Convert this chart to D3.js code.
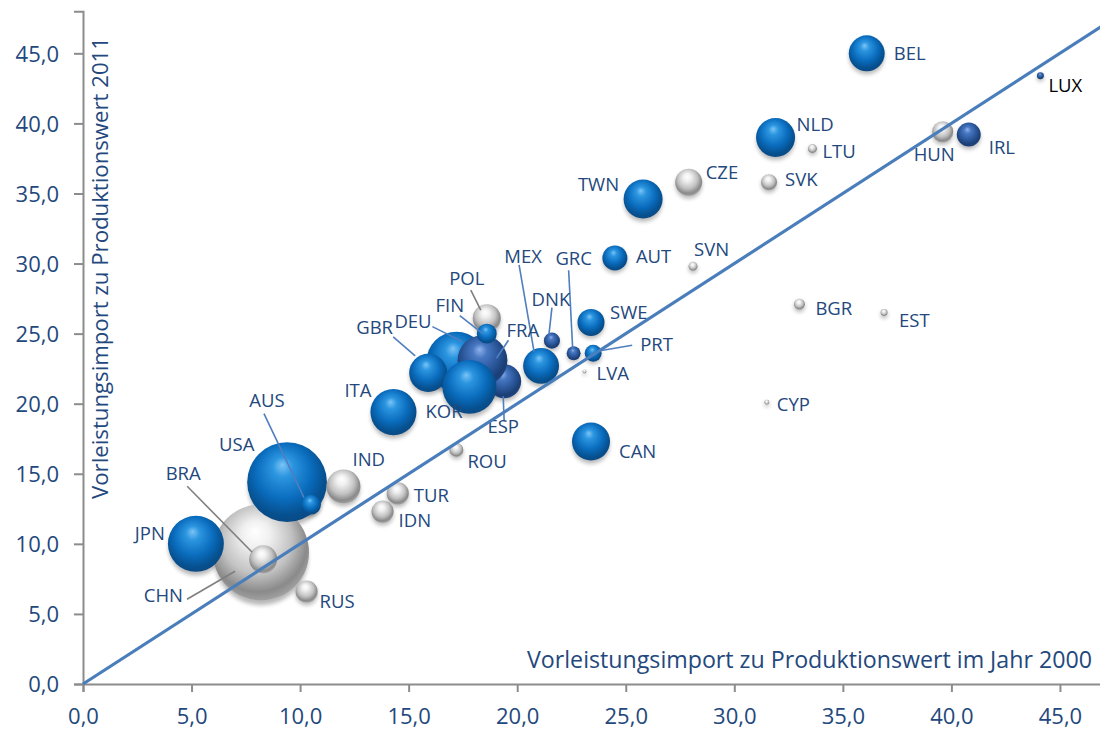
<!DOCTYPE html>
<html>
<head>
<meta charset="utf-8">
<script src="https://cdn.jsdelivr.net/npm/d3@7"></script>
<style>
  body { margin: 0; background: #fff; }
  svg { display: block; }
  text { font-family: "Open Sans", "DejaVu Sans", sans-serif; }
</style>
</head>
<body>
<svg id="chart" width="1100" height="729"></svg>
<script>
// Countries in drawing order (back to front)
const countries = ["CHN","USA","JPN","DEU","ESP","FRA","GBR","KOR","ITA","POL","FIN","BRA","AUS","IND","RUS","TUR","IDN","ROU","CAN","MEX","DNK","GRC","PRT","LVA","SWE","AUT","SVN","TWN","CZE","NLD","LTU","SVK","BEL","LUX","HUN","IRL","BGR","EST","CYP"];
// Intermediate imports as % of production value, 2000
const import2000 = [8.2, 9.4, 5.2, 17.2, 19.4, 18.4, 15.9, 17.8, 14.3, 18.6, 18.6, 8.3, 10.5, 12.0, 10.3, 14.5, 13.8, 17.2, 23.4, 21.1, 21.6, 22.6, 23.5, 23.1, 23.4, 24.5, 28.1, 25.8, 27.9, 31.9, 33.6, 31.6, 36.1, 44.1, 39.6, 40.8, 33.0, 36.9, 31.5];
// Intermediate imports as % of production value, 2011
const import2011 = [9.4, 14.4, 10.0, 23.0, 21.6, 23.1, 22.2, 21.2, 19.4, 26.1, 25.0, 8.9, 12.8, 14.1, 6.6, 13.6, 12.3, 16.7, 17.3, 22.7, 24.5, 23.6, 23.6, 22.3, 25.8, 30.4, 29.8, 34.6, 35.8, 39.0, 38.2, 35.8, 45.0, 43.4, 39.4, 39.2, 27.1, 26.5, 20.1];
// Bubble size (relative production volume)
const production = [100, 69, 34, 39, 12.5, 27, 15.7, 31.6, 23, 8.5, 4.3, 8.5, 4.3, 12.5, 5.3, 5.3, 5.3, 2.1, 15.7, 14, 2.8, 2.1, 3.1, 0.17, 7.9, 6.8, 0.88, 16.5, 7.9, 16.5, 0.88, 2.8, 14, 0.53, 4.8, 6.25, 1.3, 0.53, 0.27];
// Colour group of each bubble
const colorGroup = ["grey","blue","blue","blue","navy","navy","blue","blue","blue","grey","blue","grey","blue","grey","grey","grey","grey","grey","blue","blue","navy","navy","blue","grey","blue","blue","grey","blue","grey","blue","grey","grey","blue","navy","grey","navy","grey","grey","grey"];

const xTicks = [0, 5, 10, 15, 20, 25, 30, 35, 40, 45];
const yTicks = [0, 5, 10, 15, 20, 25, 30, 35, 40, 45];
const xTitle = "Vorleistungsimport zu Produktionswert im Jahr 2000";
const yTitle = "Vorleistungsimport zu Produktionswert 2011";

// Label placement relative to bubble centre (px); optional leader line [x1,y1,x2,y2]
const labelLayout = {
  BEL: {dx: 27, dy: 7, a: "start"},
  LUX: {dx: 8, dy: 16, a: "start", color: "#000"},
  NLD: {dx: 21, dy: -6, a: "start"},
  LTU: {dx: 10, dy: 9, a: "start"},
  HUN: {dx: -29, dy: 29, a: "start"},
  IRL: {dx: 20, dy: 19, a: "start"},
  SVK: {dx: 16, dy: 4, a: "start"},
  TWN: {dx: -24, dy: -8, a: "end"},
  CZE: {dx: 17, dy: -3, a: "start"},
  AUT: {dx: 21, dy: 5, a: "start"},
  SVN: {dx: 1, dy: -10, a: "start"},
  BGR: {dx: 16, dy: 11, a: "start"},
  EST: {dx: 15, dy: 14, a: "start"},
  CYP: {dx: 10, dy: 9, a: "start"},
  CAN: {dx: 28, dy: 16, a: "start"},
  SWE: {dx: 19, dy: -3, a: "start"},
  PRT: {dx: 47, dy: -2, a: "start", leader: [4, -2, 39, -8]},
  LVA: {dx: 12, dy: 9, a: "start"},
  GRC: {dx: 0, dy: -88, a: "middle", leader: [-1, -5, -5, -83]},
  MEX: {dx: -18, dy: -103, a: "middle", leader: [-7, -14, -22, -101]},
  DNK: {dx: -1, dy: -35, a: "middle", leader: [-3, -6, 0, -33]},
  POL: {dx: -20, dy: -33, a: "middle", leader: [-6, -8, -16, -28]},
  FIN: {dx: -37, dy: -22, a: "middle", leader: [-4, 0, -27, -18]},
  FRA: {dx: 24, dy: -23, a: "start", leader: [14, -2, 26, -20]},
  DEU: {dx: -62, dy: -34, a: "start", leader: [6, -20, -24, -35]},
  GBR: {dx: -72, dy: -39, a: "start", leader: [-13, -17, -35, -36]},
  ESP: {dx: -1, dy: 52, a: "middle", leader: [-1, 15, 0, 40]},
  KOR: {dx: -44, dy: 31, a: "start"},
  ITA: {dx: -22, dy: -15, a: "end"},
  ROU: {dx: 11, dy: 18, a: "start"},
  IND: {dx: 9, dy: -20, a: "start"},
  AUS: {dx: -44, dy: -98, a: "middle", leader: [-7, -7, -47, -91]},
  USA: {dx: -68, dy: -31, a: "start"},
  BRA: {dx: -80, dy: -79, a: "middle", leader: [-11, -7, -76, -73]},
  JPN: {dx: -31, dy: -4, a: "end"},
  CHN: {dx: -78, dy: 50, a: "end", leader: [-26, 19, -74, 47]},
  RUS: {dx: 13, dy: 16, a: "start"},
  TUR: {dx: 16, dy: 9, a: "start"},
  IDN: {dx: 16, dy: 15, a: "start"}
};

const textColor = "#23487d";
const axisColor = "#8c8c8c";
const diagColor = "#4a7ebb";

const svg = d3.select("#chart");
const x = d3.scaleLinear().domain([0, 47]).range([83, 83 + 47 * 21.71]);
const y = d3.scaleLinear().domain([0, 48]).range([684, 684 - 48 * 14.015]);
const r = d3.scaleSqrt().domain([0, 100]).range([0, 48]);
const fmt = v => d3.format(".1f")(v).replace(".", ",");

// Sphere gradients and drop shadow
const defs = svg.append("defs");
const gradients = {
  blue: [[0, "#7cc4f6"], [0.22, "#2b95e0"], [0.6, "#0a6cbd"], [0.88, "#06508f"], [1, "#0a4a85"]],
  navy: [[0, "#8fb3ec"], [0.25, "#4877c2"], [0.62, "#2a5699"], [0.88, "#1b3f75"], [1, "#1f447c"]],
  grey: [[0, "#ffffff"], [0.25, "#f0f0f0"], [0.62, "#c2c2c2"], [0.88, "#8a8a8a"], [1, "#a0a0a0"]]
};
Object.entries(gradients).forEach(([key, stops]) => {
  const g = defs.append("radialGradient").attr("id", "sphere-" + key)
    .attr("cx", "0.47").attr("cy", "0.42").attr("r", "0.58")
    .attr("fx", "0.44").attr("fy", "0.28");
  stops.forEach(([o, c]) => g.append("stop").attr("offset", o).attr("stop-color", c));
});
defs.append("filter").attr("id", "soft").attr("x", "-50%").attr("y", "-50%").attr("width", "200%").attr("height", "200%")
  .append("feGaussianBlur").attr("stdDeviation", 2.2);

// Axes
const yAxis = d3.axisLeft(y).tickValues(yTicks).tickFormat(fmt).tickSize(9).tickPadding(15);
const xAxis = d3.axisBottom(x).tickValues(xTicks).tickFormat(fmt).tickSize(8).tickPadding(16);

const gy = svg.append("g").attr("transform", "translate(83,0)").call(yAxis);
const gx = svg.append("g").attr("transform", "translate(0,684)").call(xAxis);
[gx, gy].forEach(g => {
  g.select(".domain").attr("stroke", axisColor).attr("stroke-width", 2);
  g.selectAll(".tick line").attr("stroke", axisColor).attr("stroke-width", 2);
  g.selectAll(".tick text").attr("fill", textColor).style("font-size", "22px")
    .style("font-family", '"Open Sans", sans-serif');
});
gy.selectAll(".tick text").attr("dy", "0.36em");
gx.selectAll(".tick text").attr("dy", "0.72em");

// Axis titles
svg.append("text").attr("x", 1092).attr("y", 668).attr("text-anchor", "end")
  .attr("fill", textColor).style("font-size", "23.2px").text(xTitle);
svg.append("text").attr("transform", "translate(108,268) rotate(-90)").attr("text-anchor", "middle")
  .attr("fill", textColor).style("font-size", "22.2px").text(yTitle);

const data = countries.map((c, i) => ({
  name: c, vx: import2000[i], vy: import2011[i], size: production[i], group: colorGroup[i]
}));

// Bubble shadows
svg.append("g").selectAll("circle").data(data).join("circle")
  .attr("cx", d => x(d.vx))
  .attr("cy", d => y(d.vy) + 2 + r(d.size) * 0.08)
  .attr("r", d => r(d.size) * 0.98)
  .attr("fill", "#000").attr("opacity", 0.28)
  .attr("filter", "url(#soft)");

// Bubbles
svg.append("g").selectAll("circle").data(data).join("circle")
  .attr("cx", d => x(d.vx))
  .attr("cy", d => y(d.vy))
  .attr("r", d => r(d.size))
  .attr("fill", d => `url(#sphere-${d.group})`);

// Leader lines
const withLeader = data.filter(d => labelLayout[d.name] && labelLayout[d.name].leader);
svg.append("g").selectAll("line").data(withLeader).join("line")
  .attr("x1", d => x(d.vx) + labelLayout[d.name].leader[0])
  .attr("y1", d => y(d.vy) + labelLayout[d.name].leader[1])
  .attr("x2", d => x(d.vx) + labelLayout[d.name].leader[2])
  .attr("y2", d => y(d.vy) + labelLayout[d.name].leader[3])
  .attr("stroke", d => d.group === "grey" ? "#7f7f7f" : "#4f7fbf")
  .attr("stroke-width", 1.6);

// Country labels
svg.append("g").selectAll("text").data(data).join("text")
  .attr("x", d => x(d.vx) + labelLayout[d.name].dx)
  .attr("y", d => y(d.vy) + labelLayout[d.name].dy)
  .attr("text-anchor", d => labelLayout[d.name].a)
  .attr("fill", d => labelLayout[d.name].color || textColor)
  .style("font-size", "18.5px")
  .text(d => d.name);

// 45-degree reference line (equal shares in both years)
svg.append("line")
  .attr("x1", x(0)).attr("y1", y(0))
  .attr("x2", x(47)).attr("y2", y(47))
  .attr("stroke", diagColor).attr("stroke-width", 3.2);
</script>
</body>
</html>
